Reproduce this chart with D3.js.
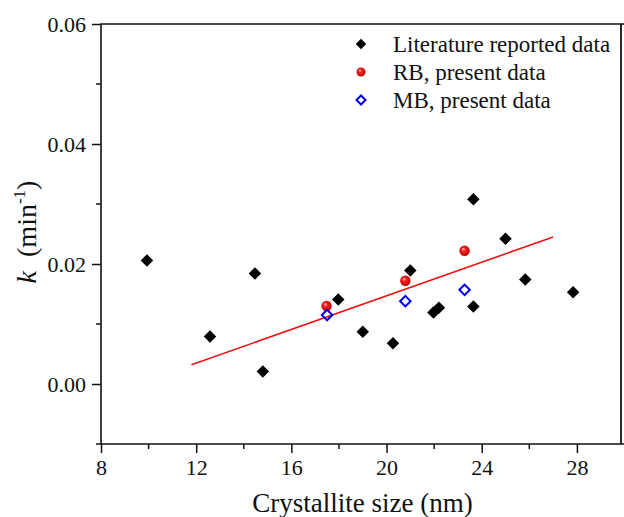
<!DOCTYPE html>
<html>
<head>
<meta charset="utf-8">
<script src="https://cdn.jsdelivr.net/npm/d3@7"></script>
<style>
  body { margin: 0; background: #fff; overflow: hidden; }
  svg { display: block; }
  text, .tick text { font-family: "Liberation Serif", "Times New Roman", serif !important; fill: #111; }
</style>
</head>
<body>
<script>
// literature data (black diamonds)
const litX = [9.93, 12.58, 14.47, 14.8, 17.97, 19.0, 20.27, 21.0, 21.97, 22.2, 23.65, 23.65, 25.0, 25.83, 27.84];
const litK = [0.0206, 0.0079, 0.0184, 0.0021, 0.0141, 0.0087, 0.0068, 0.0189, 0.0119, 0.0127, 0.0129, 0.0308, 0.0242, 0.0174, 0.0153];
// RB, present data (red spheres)
const rbX = [17.48, 20.79, 23.28];
const rbK = [0.0130, 0.0172, 0.0222];
// MB, present data (blue open diamonds)
const mbX = [17.5, 20.79, 23.28];
const mbK = [0.0115, 0.0138, 0.0157];
// linear fit line
const fitX = [11.8, 27.0];
const fitK = [0.0032, 0.0245];
// ticks
const xTicks = [8, 12, 16, 20, 24, 28];
const xMinor = [10, 14, 18, 22, 26];
const yTicks = [0.00, 0.02, 0.04, 0.06];
const yMinor = [-0.01, 0.01, 0.03, 0.05];
const legendLabels = ['Literature reported data', 'RB, present data', 'MB, present data'];

const W = 624, H = 517;
const x = d3.scaleLinear().domain([8, 30]).range([101, 624.5]);
const y = d3.scaleLinear().domain([-0.01, 0.06]).range([444, 24]);

const svg = d3.select('body').append('svg')
    .attr('width', W)
    .attr('height', H);

const defs = svg.append('defs');
const grad = defs.append('radialGradient')
    .attr('id', 'ball')
    .attr('cx', '50%').attr('cy', '50%').attr('r', '55%')
    .attr('fx', '35%').attr('fy', '30%');
grad.append('stop').attr('offset', '0%').attr('stop-color', '#ffd0d0');
grad.append('stop').attr('offset', '35%').attr('stop-color', '#ff2020');
grad.append('stop').attr('offset', '100%').attr('stop-color', '#b00000');

// frame
const x0 = x(8), x1 = W - 3, y0 = y(0.06), y1 = y(-0.01);
svg.append('path')
    .attr('d', 'M' + x0 + ',' + y1 + 'V' + y0 + 'H' + W)
    .attr('fill', 'none')
    .attr('stroke', '#111')
    .attr('stroke-width', 1.6);
svg.append('path')
    .attr('d', 'M' + x0 + ',' + y1 + 'H' + W)
    .attr('fill', 'none')
    .attr('stroke', '#111')
    .attr('stroke-width', 1.6);
svg.append('line')
    .attr('x1', x1).attr('x2', x1)
    .attr('y1', y0).attr('y2', y1)
    .attr('stroke', '#111')
    .attr('stroke-width', 1.8);

// x axis
const xAxis = d3.axisBottom(x)
    .tickValues(xTicks)
    .tickFormat(d3.format('d'))
    .tickSize(9)
    .tickPadding(6);
const gx = svg.append('g')
    .attr('transform', 'translate(0,' + y1 + ')')
    .call(xAxis)
    .attr('font-family', null)
    .attr('font-size', 22);
gx.select('.domain').remove();
gx.selectAll('line').attr('stroke', '#111').attr('stroke-width', 1.5);
gx.selectAll('text').attr('fill', '#111');
svg.append('g').selectAll('line')
    .data(xMinor).enter().append('line')
    .attr('x1', d => x(d)).attr('x2', d => x(d))
    .attr('y1', y1).attr('y2', y1 + 5)
    .attr('stroke', '#111').attr('stroke-width', 1.5);

// y axis
const yAxis = d3.axisLeft(y)
    .tickValues(yTicks)
    .tickFormat(d3.format('.2f'))
    .tickSize(9)
    .tickPadding(6);
const gy = svg.append('g')
    .attr('transform', 'translate(' + x0 + ',0)')
    .call(yAxis)
    .attr('font-family', null)
    .attr('font-size', 22);
gy.select('.domain').remove();
gy.selectAll('line').attr('stroke', '#111').attr('stroke-width', 1.5);
gy.selectAll('text').attr('fill', '#111');
svg.append('g').selectAll('line')
    .data(yMinor).enter().append('line')
    .attr('x1', x0 - 5).attr('x2', x0)
    .attr('y1', d => y(d)).attr('y2', d => y(d))
    .attr('stroke', '#111').attr('stroke-width', 1.5);

// axis titles
svg.append('text')
    .attr('x', (x0 + W) / 2)
    .attr('y', 512)
    .attr('text-anchor', 'middle')
    .style('font-size', '27px')
    .text('Crystallite size (nm)');

const yl = svg.append('text')
    .attr('transform', 'translate(36,' + ((y0 + y1) / 2 - 2) + ') rotate(-90)')
    .attr('text-anchor', 'middle')
    .style('font-size', '28px');
yl.append('tspan').attr('font-style', 'italic').text('k');
yl.append('tspan').text('\u00a0\u00a0(min');
yl.append('tspan').attr('dy', -11).style('font-size', '17px').text('-1');
yl.append('tspan').attr('dy', 11).text(')');

// fit line
const line = d3.line().x(d => x(d[0])).y(d => y(d[1]));
svg.append('path')
    .datum(fitX.map((v, i) => [v, fitK[i]]))
    .attr('d', line)
    .attr('fill', 'none')
    .attr('stroke', '#ee1111')
    .attr('stroke-width', 1.6);

// literature points
svg.append('g').selectAll('path')
    .data(litX.map((v, i) => [v, litK[i]]))
    .enter().append('path')
    .attr('d', d3.symbol().type(d3.symbolSquare).size(78))
    .attr('transform', d => 'translate(' + x(d[0]) + ',' + y(d[1]) + ') rotate(45)')
    .attr('fill', '#000');

// RB points
svg.append('g').selectAll('circle')
    .data(rbX.map((v, i) => [v, rbK[i]]))
    .enter().append('circle')
    .attr('cx', d => x(d[0]))
    .attr('cy', d => y(d[1]))
    .attr('r', 5.2)
    .attr('fill', 'url(#ball)');

// MB points
svg.append('g').selectAll('path')
    .data(mbX.map((v, i) => [v, mbK[i]]))
    .enter().append('path')
    .attr('d', d3.symbol().type(d3.symbolSquare).size(55))
    .attr('transform', d => 'translate(' + x(d[0]) + ',' + y(d[1]) + ') rotate(45)')
    .attr('fill', 'none')
    .attr('stroke', '#0000ee')
    .attr('stroke-width', 2);

// legend
const lg = svg.append('g');
const rowY = [44, 72, 100];
lg.append('path')
    .attr('d', d3.symbol().type(d3.symbolSquare).size(55))
    .attr('transform', 'translate(361,' + rowY[0] + ') rotate(45)')
    .attr('fill', '#000');
lg.append('circle')
    .attr('cx', 361).attr('cy', rowY[1]).attr('r', 4.5)
    .attr('fill', 'url(#ball)');
lg.append('path')
    .attr('d', d3.symbol().type(d3.symbolSquare).size(40))
    .attr('transform', 'translate(361,' + rowY[2] + ') rotate(45)')
    .attr('fill', 'none')
    .attr('stroke', '#0000ee')
    .attr('stroke-width', 2);
lg.selectAll('text')
    .data(legendLabels).enter().append('text')
    .attr('x', 393)
    .attr('y', (d, i) => rowY[i] + 8)
    .style('font-size', '23px')
    .text(d => d);
</script>
</body>
</html>
